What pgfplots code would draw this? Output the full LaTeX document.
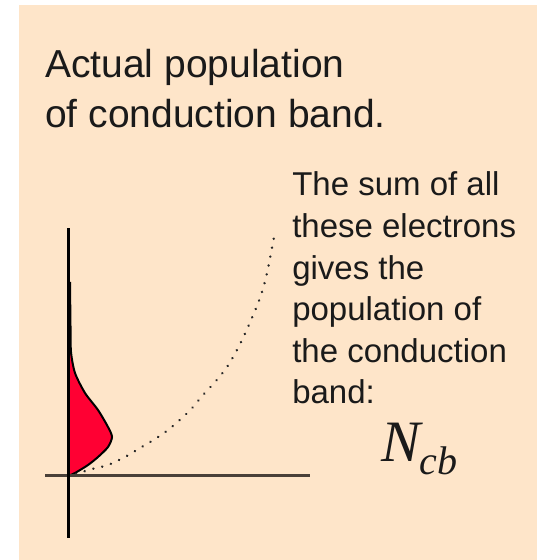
\documentclass[border=0pt]{standalone}
\usepackage{pgfplots}
\pgfplotsset{compat=1.18}
\usepackage{fontspec}
\setmainfont{Liberation Sans}
\newfontfamily\timesf{Liberation Serif}
\definecolor{peach}{HTML}{FEE5C9}
\definecolor{redfill}{HTML}{FF0033}
\definecolor{axisbrown}{HTML}{4A4038}
\definecolor{txt}{HTML}{1A1A1A}
\begin{document}
\begin{tikzpicture}
\fill[white] (0pt,0pt) rectangle (402.75pt,420pt);
\fill[peach] (14.25pt,0pt) rectangle (402.75pt,416.25pt);
\begin{axis}[at={(0pt,0pt)}, anchor=south west, scale only axis,
  width=402.75pt, height=420pt,
  xmin=-68, xmax=469, ymin=-84, ymax=476,
  axis lines=none, clip=false]
% red population
\addplot[fill=redfill, draw=black, line width=1.5pt, smooth, tension=0.45] coordinates {
  (0,0) (7,3) (20,11) (30,19) (40,29) (44,39) (40,49) (30,66) (17,83) (7,103) (3,124) (2.5,150) (2,194)};
% dotted curve
\addplot[black!85, line width=2pt, line cap=round, dash pattern=on 0.01pt off 6.8pt, smooth] coordinates {
  (8,2) (24,7) (40,11) (57,19) (72,28) (87,37) (100,46) (114,58) (125,69) (135,81) (147,94) (159,109) (170,128) (180,149) (192,178) (199,203) (207,244)};
% axes
\addplot[axisbrown, line width=2.25pt] coordinates {(-23,0) (242,0)};
\addplot[black, line width=2.25pt] coordinates {(0,-62) (0,248)};
% texts
\node[anchor=base west, inner sep=0pt, text=txt, font=\fontsize{29.25}{36}\selectfont] at (axis cs:-23,398) {Actual population};
\node[anchor=base west, inner sep=0pt, text=txt, font=\fontsize{29.25}{36}\selectfont] at (axis cs:-23,348) {of conduction band.};
\node[anchor=base west, inner sep=0pt, text=txt, font=\fontsize{24.75}{30}\selectfont] at (axis cs:224,280) {The sum of all};
\node[anchor=base west, inner sep=0pt, text=txt, font=\fontsize{24.75}{30}\selectfont] at (axis cs:224,238.4) {these electrons};
\node[anchor=base west, inner sep=0pt, text=txt, font=\fontsize{24.75}{30}\selectfont] at (axis cs:224,196.8) {gives the};
\node[anchor=base west, inner sep=0pt, text=txt, font=\fontsize{24.75}{30}\selectfont] at (axis cs:224,155.2) {population of};
\node[anchor=base west, inner sep=0pt, text=txt, font=\fontsize{24.75}{30}\selectfont] at (axis cs:224,113.6) {the conduction};
\node[anchor=base west, inner sep=0pt, text=txt, font=\fontsize{24.75}{30}\selectfont] at (axis cs:224,72) {band:};
\node[anchor=base west, inner sep=0pt, text=txt, font=\timesf\itshape\fontsize{44}{44}\selectfont] at (axis cs:313,14) {N};
\node[anchor=base west, inner sep=0pt, text=txt, font=\timesf\itshape\fontsize{30}{30}\selectfont] at (axis cs:351,1) {cb};
\end{axis}
\end{tikzpicture}
\end{document}
